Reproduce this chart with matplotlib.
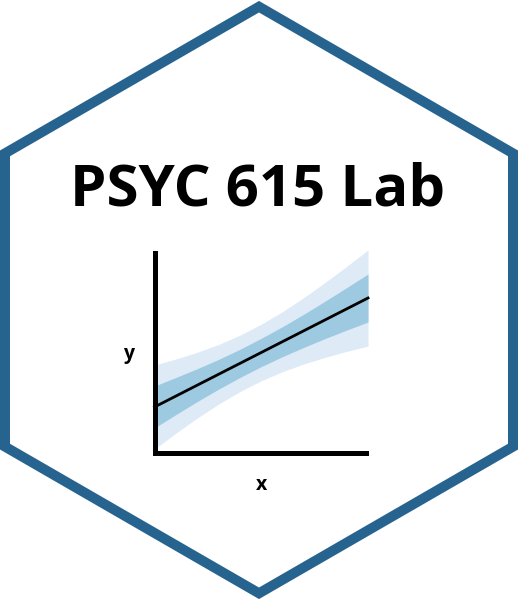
import matplotlib
matplotlib.use("Agg")
import matplotlib.pyplot as plt
import numpy as np
from matplotlib.patches import Polygon

# ---- data ----
x_vals = [0, 1, 2, 3, 4, 5, 6, 7, 8, 9, 10]
fit = [45.5, 56.4, 67.3, 78.2, 89.1, 100.0, 110.9, 121.8, 132.7, 143.6, 154.5]
outer_upper = [87.5, 93.5, 100.2, 108.0, 117.3, 128.3, 140.9, 155.0, 170.2, 186.1, 202.5]
outer_lower = [3.5, 19.3, 34.4, 48.4, 60.9, 71.7, 80.9, 88.6, 95.2, 101.1, 106.5]
inner_upper = [66.5, 75.0, 83.8, 93.1, 103.2, 114.2, 125.9, 138.4, 151.5, 164.9, 178.5]
inner_lower = [24.5, 37.9, 50.9, 63.3, 75.0, 85.9, 95.9, 105.2, 114.0, 122.4, 130.5]
title = "PSYC 615 Lab"
x_label = "x"
y_label = "y"

W, H, DPI = 518, 600, 100
fig = plt.figure(figsize=(W / DPI, H / DPI), dpi=DPI)
fig.patch.set_facecolor("white")

# full-figure axes in pixel coordinates
bg = fig.add_axes([0, 0, 1, 1])
bg.set_xlim(0, W)
bg.set_ylim(H, 0)
bg.axis("off")

cx, cy = 259, 300
apothem = 254.0
R = apothem * 2 / np.sqrt(3)
angles = np.deg2rad([90, 30, -30, -90, -150, 150])
verts = [(cx + R * np.cos(a), cy - R * np.sin(a)) for a in angles]
hexagon = Polygon(verts, closed=True, facecolor="white", edgecolor="#27638F",
                  linewidth=10 * 72 / DPI, joinstyle="miter")
bg.add_patch(hexagon)

bg.text(258, 205, title, ha="center", va="baseline", fontsize=41.9,
        fontweight="bold", family=["Open Sans", "DejaVu Sans"], color="black")
bg.text(129, 359.5, y_label, ha="center", va="baseline", fontsize=14,
        fontweight="bold", family=["Open Sans", "DejaVu Sans"], color="black")
bg.text(261.3, 490, x_label, ha="center", va="baseline", fontsize=14,
        fontweight="bold", family=["Open Sans", "DejaVu Sans"], color="black")

# inner plot axes (spine ends project by half the spine width)
half = 2.5
left_px, right_px, bottom_px, top_px = 154.5, 368.0 - half, 452.5, 250.0 + half
ax = fig.add_axes([left_px / W, 1 - bottom_px / H,
                   (right_px - left_px) / W, (bottom_px - top_px) / H])
ax.patch.set_alpha(0)
ax.fill_between(x_vals, outer_lower, outer_upper, color="#deebf7", linewidth=0, clip_on=False)
ax.fill_between(x_vals, inner_lower, inner_upper, color="#9ecae1", linewidth=0, clip_on=False)
ax.plot(x_vals, fit, color="black", linewidth=2.0, clip_on=False)
x_span = 10 * (right_px - left_px) / (368.0 - 154.5)
y_span = 202.5 * (bottom_px - top_px) / (452.5 - 250.0)
ax.set_xlim(0, x_span)
ax.set_ylim(0, y_span)
ax.set_xticks([])
ax.set_yticks([])
for s in ["top", "right"]:
    ax.spines[s].set_visible(False)
for s in ["left", "bottom"]:
    ax.spines[s].set_linewidth(5 * 72 / DPI)
    ax.spines[s].set_color("black")
    ax.spines[s].set_capstyle("projecting")
    ax.spines[s].set_zorder(5)

fig.savefig("out.png", dpi=DPI, facecolor="white")
